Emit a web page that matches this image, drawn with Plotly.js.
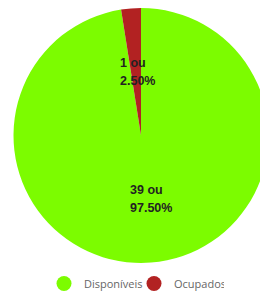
<!DOCTYPE html>
<html>
<head>
<meta charset="utf-8">
<script src="https://cdn.plot.ly/plotly-3.0.1.min.js"></script>
<style>
html,body{margin:0;padding:0;overflow:hidden;background:#fff;width:260px;height:292px;}
#chart{width:282px;height:298px;}
</style>
</head>
<body>
<div id="chart"></div>
<script>
var labels = ["Disponíveis", "Ocupados"];
var values = [39, 1];
var colors = ["#7CFC00", "#B22222"];

var W = 282, H = 298;
var cx = 141, cy = 135.5, R = 127.5;

var total = values.reduce(function(a,b){return a+b;},0);
var annotations = [];
var acc = 0;
var lblFont = {family: "Liberation Sans, Arial, sans-serif", size: 12.5, color: "#222", weight: "bold"};
for (var i = 0; i < values.length; i++) {
  var frac = values[i] / total;
  var mid = (acc + frac / 2) * 2 * Math.PI; // clockwise from top
  acc += frac;
  var px = cx + Math.sin(mid) * R * 0.5;
  var py = cy - Math.cos(mid) * R * 0.5;
  var lines = [values[i] + " ou", (frac * 100).toFixed(2) + "%"];
  for (var k = 0; k < lines.length; k++) {
    annotations.push({
      xref: "paper", yref: "paper",
      x: (px - 18) / W, y: 1 - (py - 9 + k * 18) / H,
      xanchor: "left", yanchor: "middle",
      text: lines[k],
      showarrow: false,
      font: lblFont
    });
  }
}

var data = [{
  type: "pie",
  labels: labels,
  values: values,
  sort: false,
  direction: "clockwise",
  rotation: 0,
  marker: {colors: colors, line: {color: "#ffffff", width: 0}},
  textinfo: "none",
  hoverinfo: "label+value+percent",
  showlegend: false,
  domain: {x: [(cx - R) / W, (cx + R) / W], y: [1 - (cy + R) / H, 1 - (cy - R) / H]}
}];

for (var j = 0; j < labels.length; j++) {
  data.push({
    type: "scatter", mode: "markers",
    x: [null], y: [null],
    name: labels[j],
    marker: {color: colors[j], size: 15, symbol: "circle"},
    showlegend: true, hoverinfo: "skip"
  });
}

var layout = {
  width: W, height: H,
  margin: {l: 0, r: 0, t: 0, b: 0},
  paper_bgcolor: "#ffffff",
  plot_bgcolor: "rgba(0,0,0,0)",
  xaxis: {visible: false, range: [0, 1]},
  yaxis: {visible: false, range: [0, 1]},
  showlegend: true,
  legend: {
    orientation: "h",
    x: 134 / W, xanchor: "center",
    y: 0, yanchor: "bottom",
    font: {family: "Open Sans, sans-serif", size: 11, color: "#666"},
    itemsizing: "trace",
    itemwidth: 30,
    entrywidth: 45,
    entrywidthmode: "pixels",
    bgcolor: "rgba(0,0,0,0)"
  },
  annotations: annotations
};

Plotly.newPlot("chart", data, layout, {displayModeBar: false, staticPlot: true});
</script>
</body>
</html>
